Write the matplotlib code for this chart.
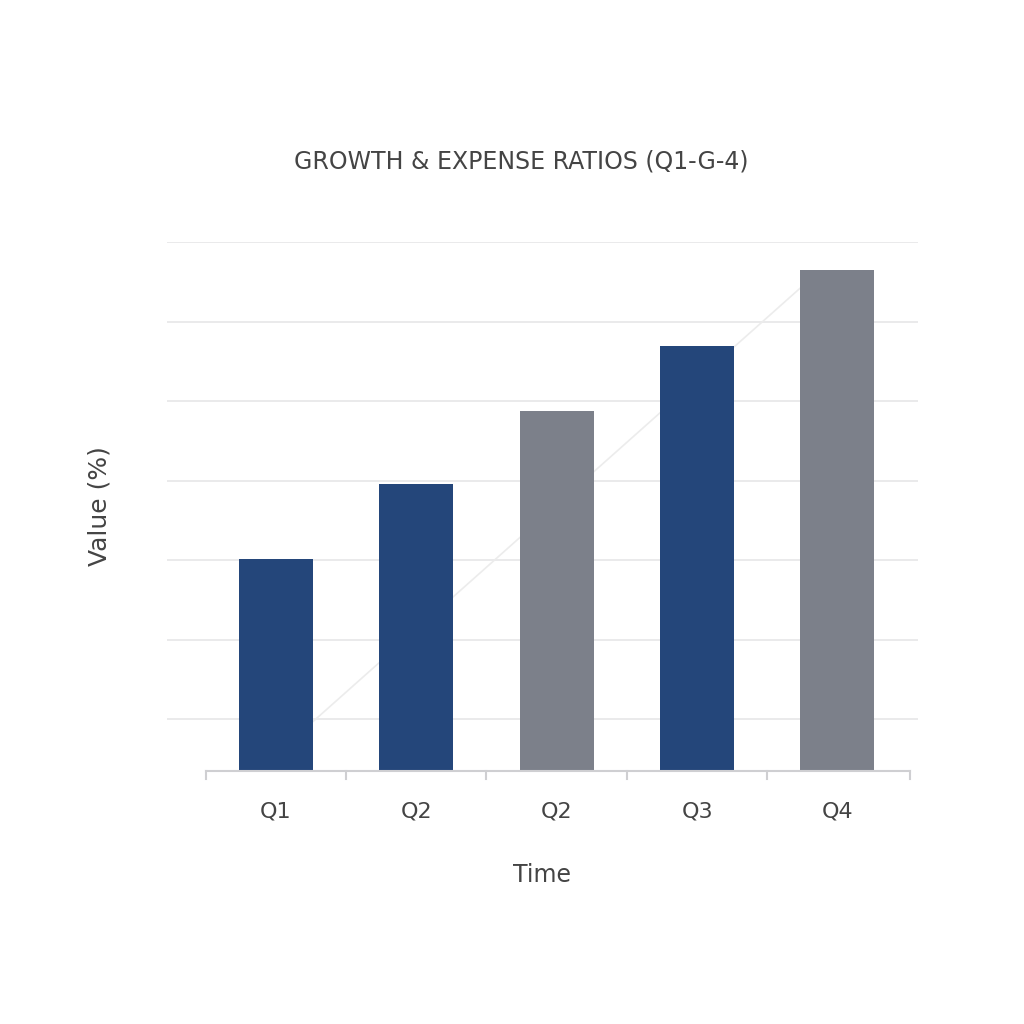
import matplotlib
matplotlib.use("Agg")
import matplotlib.pyplot as plt

categories = ["Q1", "Q2", "Q2", "Q3", "Q4"]
values = [2.67, 3.61, 4.53, 5.35, 6.30]
colors = ["#24467a", "#24467a", "#7c808a", "#24467a", "#7c808a"]
grid_vals = [0.65, 1.65, 2.65, 3.65, 4.65, 5.65, 6.65]

fig = plt.figure(figsize=(10.24, 10.24), dpi=100)
ax = fig.add_axes([0.163, 0.247, 0.733, 0.517])
x = list(range(len(categories)))
ax.set_xlim(-0.776, 4.57)
ax.set_ylim(0, 6.66)
for g in grid_vals:
    ax.axhline(g, color="#e6e6e8", lw=1.2, zorder=0)
ax.plot([0.25, 3.75], [0.6, 6.1], color="#ececec", lw=1.2, zorder=0.5)
ax.bar(x, values, width=0.527, color=colors, zorder=2)
ax.plot([-0.5, 4.52], [0, 0], color="#cfcfd2", lw=1.5, clip_on=False, zorder=3)
for b in [-0.5, 0.5, 1.5, 2.5, 3.5, 4.52]:
    ax.plot([b, b], [0, -0.1], color="#cfcfd2", lw=1.5, clip_on=False)
for s in ax.spines.values():
    s.set_visible(False)
ax.set_yticks([])
ax.set_xticks(x)
ax.set_xticklabels(categories, fontsize=16, color="#444444")
ax.tick_params(axis="x", length=0, pad=22)
ax.set_xlabel("Time", fontsize=17, color="#444444", labelpad=30)
ax.set_ylabel("Value (%)", fontsize=18, color="#444444", labelpad=40)
fig.text(0.509, 0.842, "GROWTH & EXPENSE RATIOS (Q1-G-4)", ha="center", va="center",
         fontsize=17, color="#444444")
fig.savefig("out.png", dpi=100, facecolor="white")
